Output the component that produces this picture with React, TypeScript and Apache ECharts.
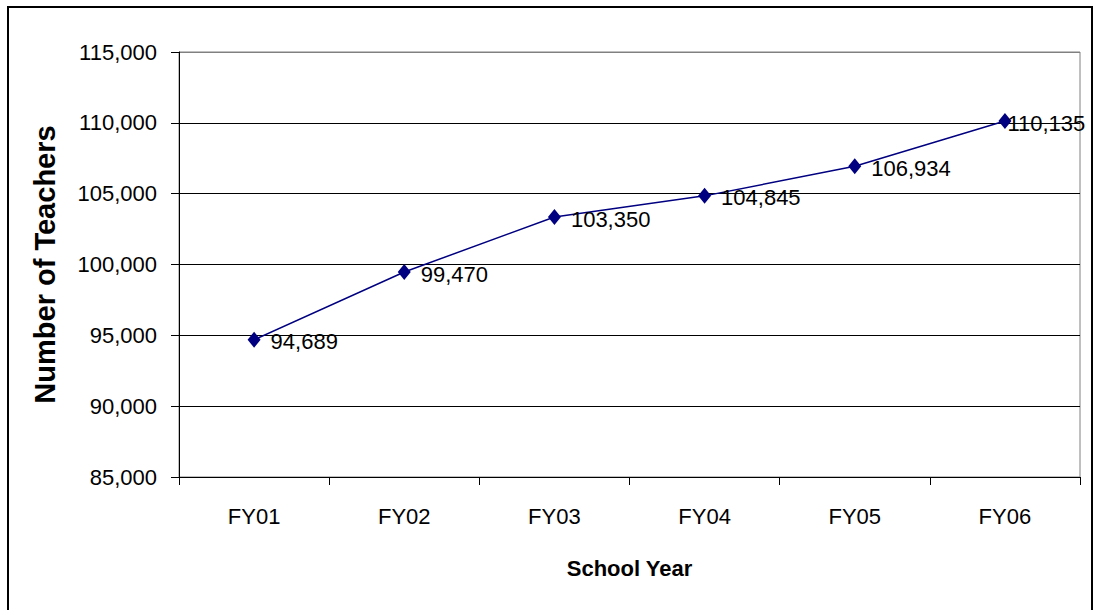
import React, { useEffect, useRef } from "react";
import * as echarts from "echarts";

const categories = ["FY01", "FY02", "FY03", "FY04", "FY05", "FY06"];
const teachers = [94689, 99470, 103350, 104845, 106934, 110135];
const yMin = 85000;
const yMax = 115000;
const yStep = 5000;

const fmt = (v: number) => v.toLocaleString("en-US");

export default function App() {
  const ref = useRef<HTMLDivElement>(null);
  useEffect(() => {
    if (!ref.current) return;
    const chart = echarts.init(ref.current, undefined, { renderer: "svg" });
    const font = "Arial, 'Liberation Sans', Helvetica, sans-serif";
    const last = teachers.length - 1;
    const seriesData = teachers.map((v, i) =>
      i === last ? { value: v, label: { offset: [-14, 3] } } : v
    );
    chart.setOption({
      animation: false,
      backgroundColor: "#ffffff",
      textStyle: { fontFamily: font },
      grid: {
        left: 179,
        top: 52,
        right: 15,
        bottom: 133,
        show: true,
        borderColor: "#808080",
        borderWidth: 1,
      },
      graphic: [
        {
          type: "rect",
          shape: { x: 8, y: 7, width: 1084, height: 620 },
          style: { fill: "none", stroke: "#000", lineWidth: 2 },
          silent: true,
        },
      ],
      xAxis: {
        type: "category",
        data: categories,
        boundaryGap: true,
        name: "School Year",
        nameLocation: "middle",
        nameGap: 80,
        nameTextStyle: { fontSize: 22, fontWeight: "bold", color: "#000", fontFamily: font },
        axisLine: { lineStyle: { color: "#000", width: 1 } },
        axisTick: { show: true, length: 8, lineStyle: { color: "#000" } },
        axisLabel: { fontSize: 22, color: "#000", margin: 28, fontFamily: font },
        splitLine: { show: false },
      },
      yAxis: {
        type: "value",
        min: yMin,
        max: yMax,
        interval: yStep,
        name: "Number of Teachers",
        nameLocation: "middle",
        nameRotate: 90,
        nameGap: 120,
        nameTextStyle: { fontSize: 29, fontWeight: "bold", color: "#000", fontFamily: font },
        axisLine: { show: true, lineStyle: { color: "#000", width: 1 } },
        axisTick: { show: true, length: 8, lineStyle: { color: "#000" } },
        axisLabel: {
          fontSize: 22,
          color: "#000",
          margin: 22,
          fontFamily: font,
          formatter: (v: number) => fmt(v),
        },
        splitLine: {
          show: true,
          lineStyle: {
            color: ["#000", "#000", "#000", "#000", "#000", "#000", "#808080"],
            width: 1,
          },
        },
      },
      series: [
        {
          type: "line",
          data: seriesData,
          symbol: "diamond",
          symbolSize: [13, 16],
          lineStyle: { color: "#000080", width: 1.5 },
          itemStyle: { color: "#000080" },
          label: {
            show: true,
            position: "right",
            distance: 10,
            offset: [0, 2],
            fontSize: 22,
            color: "#000",
            fontFamily: font,
            formatter: (p: any) => fmt(p.value),
          },
        },
      ],
    });
    return () => chart.dispose();
  }, []);
  return (
    <div
      ref={ref}
      style={{ position: "fixed", left: 0, top: 0, width: 1095, height: 610 }}
    />
  );
}
